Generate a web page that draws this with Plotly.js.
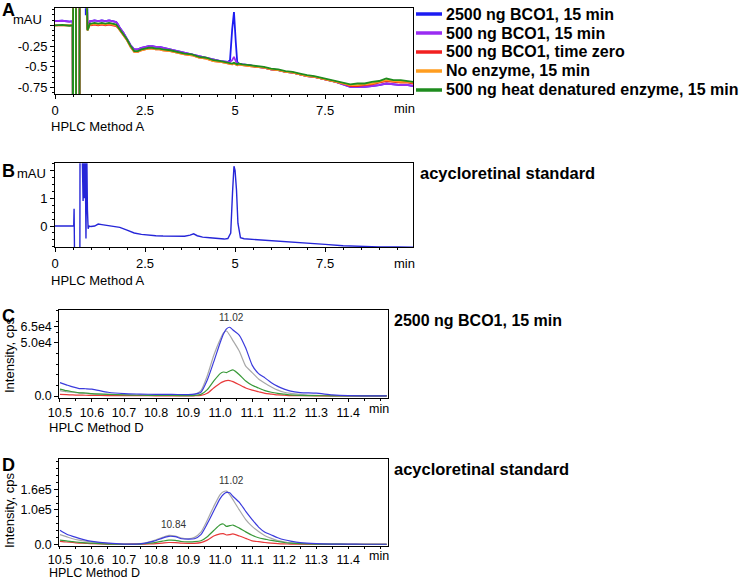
<!DOCTYPE html>
<html>
<head>
<meta charset="utf-8">
<script src="https://cdn.plot.ly/plotly-3.0.1.min.js"></script>
<style>html,body{margin:0;padding:0;background:#fff}#chart{width:745px;height:580px}</style>
</head>
<body>
<div id="chart"></div>
<script>
// ---------------- DATA ----------------
// Panel A : HPLC Method A, 5 samples (mAU vs min)
const seriesNamesA = ['2500 ng BCO1, 15 min', '500 ng BCO1, 15 min', '500 ng BCO1, time zero', 'No enzyme, 15 min', '500 ng heat denatured enzyme, 15 min'];
const tA = [0, 0.2, 0.4, 0.49, 0.5, 0.505, 0.58, 0.585, 0.68, 0.685, 0.83, 0.855, 0.87, 0.895, 0.9, 0.93, 0.97,
  1.0, 1.1, 1.2, 1.3, 1.4, 1.5, 1.6, 1.7, 1.75, 1.8, 1.9, 2.0, 2.1, 2.2, 2.3, 2.4, 2.5, 2.6, 2.7, 2.8, 2.9, 3.0,
  3.2, 3.4, 3.6, 3.8, 4.0, 4.2, 4.4, 4.6, 4.8, 4.86, 4.92, 4.97, 5.02, 5.06, 5.1, 5.2, 5.4, 5.6, 5.8, 6.0,
  6.2, 6.4, 6.6, 6.8, 7.0, 7.2, 7.4, 7.6, 7.8, 8.0, 8.2, 8.4, 8.6, 8.8, 9.0, 9.2, 9.4, 9.6, 9.8, 9.95];
const blueA = [0.05, 0.055, 0.045, 0.05, -2, 2, 2, -2, -2, 2, 2, 0.12, 2, 2, -0.04, 0.0, 0.05,
  0.05, 0.06, 0.05, 0.06, 0.05, 0.06, 0.05, 0.04, 0.01, -0.03, -0.09, -0.16, -0.24, -0.29, -0.29, -0.27, -0.26, -0.25, -0.25, -0.26, -0.26, -0.27,
  -0.29, -0.31, -0.33, -0.35, -0.37, -0.39, -0.41, -0.43, -0.44, -0.42, -0.05, 0.16, -0.2, -0.44, -0.46, -0.47, -0.48, -0.5, -0.51, -0.53,
  -0.54, -0.56, -0.57, -0.59, -0.61, -0.62, -0.64, -0.66, -0.68, -0.71, -0.74, -0.74, -0.74, -0.73, -0.72, -0.7, -0.71, -0.72, -0.72, -0.73];
const purpleA = [0.05, 0.055, 0.045, 0.05, -2, 2, 2, -2, -2, 2, 2, 2, 2, 2, -0.04, 0.0, 0.05,
  0.05, 0.06, 0.05, 0.06, 0.05, 0.06, 0.05, 0.04, 0.01, -0.03, -0.09, -0.16, -0.24, -0.29, -0.29, -0.27, -0.26, -0.25, -0.25, -0.26, -0.26, -0.27,
  -0.29, -0.31, -0.33, -0.35, -0.37, -0.39, -0.41, -0.43, -0.44, -0.44, -0.42, -0.38, -0.43, -0.46, -0.47, -0.47, -0.48, -0.5, -0.51, -0.53,
  -0.54, -0.56, -0.57, -0.59, -0.61, -0.62, -0.64, -0.66, -0.68, -0.71, -0.74, -0.74, -0.74, -0.73, -0.72, -0.7, -0.71, -0.72, -0.72, -0.73];
const redA = [0.0, 0.0, 0.0, 0.0, -2, 2, 2, -2, -2, 2, 2, 2, 2, 2, -0.06, -0.03, 0.01,
  0.0, 0.01, 0.0, 0.01, 0.0, 0.01, 0.0, -0.01, -0.03, -0.06, -0.11, -0.18, -0.26, -0.32, -0.32, -0.3, -0.29, -0.28, -0.28, -0.29, -0.29, -0.3,
  -0.31, -0.33, -0.35, -0.36, -0.39, -0.4, -0.43, -0.44, -0.46, -0.46, -0.47, -0.46, -0.47, -0.48, -0.47, -0.48, -0.49, -0.5, -0.51, -0.53,
  -0.54, -0.56, -0.57, -0.59, -0.61, -0.62, -0.64, -0.66, -0.68, -0.7, -0.73, -0.73, -0.72, -0.71, -0.69, -0.67, -0.68, -0.69, -0.69, -0.7];
const orangeA = [0.0, 0.0, 0.0, 0.0, -2, 2, 2, -2, -2, 2, 2, 2, 2, 2, -0.06, -0.03, 0.01,
  0.01, 0.02, 0.01, 0.02, 0.01, 0.02, 0.01, 0.0, -0.03, -0.06, -0.11, -0.18, -0.26, -0.32, -0.32, -0.3, -0.29, -0.28, -0.28, -0.29, -0.29, -0.3,
  -0.31, -0.33, -0.35, -0.36, -0.39, -0.4, -0.43, -0.44, -0.46, -0.46, -0.47, -0.46, -0.47, -0.48, -0.47, -0.48, -0.49, -0.5, -0.51, -0.53,
  -0.54, -0.56, -0.57, -0.59, -0.61, -0.62, -0.64, -0.66, -0.68, -0.7, -0.72, -0.72, -0.71, -0.7, -0.68, -0.66, -0.67, -0.68, -0.68, -0.69];
const greenA = [0.0, 0.005, -0.005, 0.0, -2, 2, 2, -2, -2, 2, 2, 2, 2, 2, -0.06, -0.03, 0.02,
  0.02, 0.03, 0.02, 0.03, 0.02, 0.03, 0.02, 0.01, -0.02, -0.05, -0.1, -0.17, -0.25, -0.31, -0.31, -0.29, -0.28, -0.27, -0.27, -0.28, -0.28, -0.29,
  -0.3, -0.32, -0.34, -0.35, -0.38, -0.39, -0.42, -0.43, -0.45, -0.45, -0.46, -0.45, -0.46, -0.47, -0.46, -0.47, -0.48, -0.49, -0.5, -0.52,
  -0.53, -0.55, -0.56, -0.58, -0.6, -0.61, -0.63, -0.65, -0.67, -0.69, -0.71, -0.7, -0.7, -0.68, -0.67, -0.64, -0.66, -0.66, -0.67, -0.68];
const valuesA = [blueA, purpleA, redA, orangeA, greenA];
const colorsA = ['#1c1cf2', '#9a2cf2', '#f22020', '#ff9d1f', '#1e8c1e'];

// Panel B : acycloretinal standard, HPLC Method A
const tB = [0, 0.3, 0.52, 0.53, 0.545, 0.55, 0.69, 0.695, 0.75, 0.78, 0.8, 0.82, 0.84, 0.86, 0.88, 0.9,
  0.92, 0.95, 1.0, 1.1, 1.2, 1.3, 1.5, 1.7, 1.8, 2.0, 2.2, 2.4, 2.6, 2.8, 3.0, 3.2, 3.4, 3.6, 3.75, 3.85,
  3.95, 4.1, 4.3, 4.5, 4.7, 4.8, 4.88, 4.93, 4.97, 5.0, 5.04, 5.08, 5.15, 5.25, 5.5, 6.0, 6.5, 7.0, 7.5, 8.0,
  8.5, 9.0, 9.5, 9.95];
const vB = [0, 0, 0, 0.62, -2, -2, -2, 3, 3, 0.9, 3, 1.0, 2.5, -0.45, 3, 0.6,
  -0.1, 0.0, -0.02, 0.0, 0.07, 0.05, 0.02, -0.02, -0.05, -0.15, -0.25, -0.3, -0.33, -0.35, -0.36, -0.37, -0.37, -0.37, -0.33, -0.28,
  -0.35, -0.4, -0.42, -0.45, -0.47, -0.45, -0.25, 1.2, 2.15, 2.0, 1.3, 0.1, -0.42, -0.46, -0.48, -0.52, -0.56, -0.61, -0.66, -0.71,
  -0.74, -0.75, -0.75, -0.76];

// Panel C : 2500 ng BCO1, 15 min, HPLC Method D (cps vs min)
const tC = [10.5, 10.52, 10.54, 10.56, 10.58, 10.6, 10.65, 10.7, 10.75, 10.8, 10.85, 10.9, 10.92, 10.94, 10.96, 10.98, 11.0, 11.01,
  11.02, 11.03, 11.04, 11.06, 11.08, 11.1, 11.12, 11.14, 11.16, 11.18, 11.2, 11.22, 11.25, 11.3, 11.35, 11.4, 11.45, 11.52];
const grayC = [5000, 4000, 3500, 3000, 2500, 2000, 1500, 1000, 800, 700, 600, 600, 1500, 5000, 19000, 38000, 53000, 59000,
  61000, 57000, 52000, 42000, 28000, 22000, 16000, 12000, 8500, 5500, 3500, 2500, 1500, 500, 300, 200, 200, 200];
const redC = [1500, 1200, 1000, 800, 700, 600, 400, 300, 300, 200, 200, 200, 200, 500, 2500, 7500, 12000, 13500,
  14500, 14500, 13500, 10500, 7500, 5500, 4000, 2500, 1800, 1000, 700, 400, 300, 200, 200, 200, 200, 200];
const greenC = [6500, 5000, 4000, 3000, 2800, 2200, 1500, 1000, 700, 500, 500, 400, 600, 1500, 6000, 14000, 21000, 22500,
  22000, 23500, 24500, 20000, 14000, 10000, 7500, 5000, 3500, 2500, 1800, 1000, 600, 300, 200, 200, 200, 200];
const blueC = [12500, 10500, 8500, 7000, 6800, 6500, 3500, 2200, 1800, 1500, 1500, 1300, 1800, 3500, 15000, 32000, 50000, 58000,
  63000, 64500, 62000, 57000, 45000, 29000, 21000, 17000, 12500, 9000, 6500, 4500, 3200, 2600, 1000, 300, 200, 200];

// Panel D : acycloretinal standard, HPLC Method D
const tD = [10.5, 10.52, 10.54, 10.56, 10.58, 10.6, 10.65, 10.7, 10.75, 10.78, 10.8, 10.82, 10.84, 10.86, 10.88, 10.9, 10.92, 10.94,
  10.96, 10.98, 11.0, 11.01, 11.02, 11.03, 11.04, 11.06, 11.08, 11.1, 11.12, 11.14, 11.16, 11.18, 11.2, 11.22, 11.25, 11.3,
  11.35, 11.4, 11.45, 11.52];
const grayD = [28000, 22000, 16000, 12000, 9000, 6500, 2500, 500, 1500, 7000, 13000, 20000, 26000, 24000, 18000, 16000, 20000, 35000,
  70000, 110000, 145000, 153000, 155000, 145000, 130000, 100000, 72000, 52000, 37000, 25000, 17000, 11000, 7000, 4000, 2000, 800,
  300, 0, 0, 0];
const redD = [8500, 6500, 5000, 3500, 2500, 1500, 500, 0, 300, 1000, 2000, 3500, 5000, 4500, 3000, 2500, 2500, 4500,
  12000, 24000, 30000, 31000, 27000, 28000, 30000, 24000, 17000, 10000, 7500, 5000, 3000, 1500, 800, 500, 200, 0,
  0, 0, 0, 0];
const greenD = [12000, 10000, 7500, 5500, 4000, 3000, 500, 0, 500, 3000, 5500, 9000, 12000, 11500, 8000, 7000, 7500, 10000,
  22000, 40000, 57000, 59000, 52000, 54000, 56000, 47000, 36000, 26000, 19000, 15000, 11000, 8000, 5000, 3000, 1500, 500,
  200, 0, 0, 0];
const blueD = [41000, 30000, 23000, 17000, 12000, 8500, 3000, 500, 1000, 6000, 11000, 18000, 23000, 22000, 16000, 15000, 16000, 28000,
  60000, 97000, 133000, 145000, 151000, 150000, 140000, 122000, 96000, 72000, 50000, 35000, 27000, 19000, 13000, 9000, 4500, 1500,
  500, 200, 0, 0];
const colorsCD = {gray: '#a8a8a8', red: '#e83a3a', green: '#3a9a3a', blue: '#3b3bdc'};

// tick labels
const ticksAB_x = [0, 2.5, 5, 7.5];
const ticksA_y = [-0.75, -0.5, -0.25, 0];
const ticksA_ytext = ['-0.75', '-0.5', '-0.25', ''];
const ticksB_y = [0, 1, 2];
const ticksB_ytext = ['0', '1', ''];
const ticksCD_x = [10.5, 10.6, 10.7, 10.8, 10.9, 11.0, 11.1, 11.2, 11.3, 11.4];
const ticksCD_xtext = ['10.5', '10.6', '10.7', '10.8', '10.9', '11.0', '11.1', '11.2', '11.3', '11.4'];
const ticksC_y = [0, 50000, 65000];
const ticksC_ytext = ['0.0', '5.0e4', '6.5e4'];
const ticksD_y = [0, 100000, 160000];
const ticksD_ytext = ['0.0', '1.0e5', '1.6e5'];
const peakLabelsC = [{t: 11.02, text: '11.02'}];
const peakLabelsD = [{t: 10.84, text: '10.84'}, {t: 11.02, text: '11.02'}];

// ---------------- LAYOUT HELPERS ----------------
const W = 745, H = 580;
const px = v => v / W;
const py = v => 1 - v / H;
const FONT = 'Liberation Sans, Arial, sans-serif';

function axis(extra) {
  return Object.assign({
    showline: true, mirror: true, linecolor: '#000', linewidth: 1,
    ticks: 'outside', ticklen: 4, tickwidth: 1, tickcolor: '#000',
    showgrid: false, zeroline: false, fixedrange: true,
    tickfont: {family: FONT, size: 13, color: '#000'},
    tickmode: 'array'
  }, extra);
}
function minor(dtick, tick0) {
  return {ticks: 'outside', ticklen: 2, tickcolor: '#000', tickmode: 'linear', dtick: dtick, tick0: tick0, showgrid: false};
}

// ---------------- TRACES ----------------
const traces = [];
valuesA.forEach((vals, i) => {
  traces.push({x: tA, y: vals, name: seriesNamesA[i], type: 'scatter', mode: 'lines',
    line: {color: colorsA[i], width: 1.8}, xaxis: 'x', yaxis: 'y', showlegend: false, hoverinfo: 'skip'});
});
traces.push({x: tB, y: vB, name: 'acycloretinal standard', type: 'scatter', mode: 'lines',
  line: {color: '#2626d8', width: 1.4}, xaxis: 'x2', yaxis: 'y2', showlegend: false});

[['gray', grayC], ['red', redC], ['green', greenC], ['blue', blueC]].forEach(([c, v]) => {
  traces.push({x: tC, y: v, type: 'scatter', mode: 'lines', line: {color: colorsCD[c], width: 1.2, shape: 'spline', smoothing: 0.6},
    xaxis: 'x3', yaxis: 'y3', showlegend: false});
});
[['gray', grayD], ['red', redD], ['green', greenD], ['blue', blueD]].forEach(([c, v]) => {
  traces.push({x: tD, y: v, type: 'scatter', mode: 'lines', line: {color: colorsCD[c], width: 1.2, shape: 'spline', smoothing: 0.6},
    xaxis: 'x4', yaxis: 'y4', showlegend: false});
});

// ---------------- ANNOTATIONS ----------------
const ann = [];
function txt(x, y, text, opts) {
  ann.push(Object.assign({xref: 'paper', yref: 'paper', x: px(x), y: py(y), text: text, showarrow: false,
    xanchor: 'left', yanchor: 'middle', font: {family: FONT, size: 13, color: '#000'}}, opts || {}));
}
const bold = s => '<b>' + s + '</b>';
// panel letters
txt(0, 10, bold('A'), {font: {family: FONT, size: 18, color: '#000'}});
txt(0, 171, bold('B'), {font: {family: FONT, size: 18, color: '#000'}});
txt(0, 316, bold('C'), {font: {family: FONT, size: 18, color: '#000'}});
txt(0, 465, bold('D'), {font: {family: FONT, size: 18, color: '#000'}});
// unit labels
txt(28, 20, 'mAU', {xanchor: 'center'});
txt(31, 173, 'mAU', {xanchor: 'center'});
txt(404, 109, 'min', {xanchor: 'center'});
txt(404, 263, 'min', {xanchor: 'center'});
txt(379, 409, 'min', {xanchor: 'center', font: {family: FONT, size: 12.5, color: '#000'}});
txt(379, 556, 'min', {xanchor: 'center', font: {family: FONT, size: 12.5, color: '#000'}});
// method labels
txt(49, 126, 'HPLC Method A');
txt(49, 280, 'HPLC Method A');
txt(47, 427, 'HPLC Method D');
txt(47, 572.5, 'HPLC Method D', {font: {family: FONT, size: 12.5, color: '#000'}});
// y titles
txt(9, 356, 'Intensity, cps', {xanchor: 'center', textangle: -90});
txt(9, 511, 'Intensity, cps', {xanchor: 'center', textangle: -90});
// panel titles
txt(418, 173, bold('acycloretinal standard'), {font: {family: FONT, size: 16.5, color: '#000'}});
txt(392, 320, bold('2500 ng BCO1, 15 min'), {font: {family: FONT, size: 16, color: '#000'}});
txt(392, 469, bold('acycloretinal standard'), {font: {family: FONT, size: 16.5, color: '#000'}});
// legend of panel A
const legendRows = [14, 33, 52, 71, 90];
const shapes = [];
seriesNamesA.forEach((n, i) => {
  txt(444, legendRows[i], bold(n), {font: {family: FONT, size: 16, color: '#000'}});
  shapes.push({type: 'line', xref: 'paper', yref: 'paper', x0: px(416), x1: px(442), y0: py(legendRows[i]), y1: py(legendRows[i]),
    line: {color: colorsA[i], width: 3.5}});
});
// peak labels
peakLabelsC.forEach(p => {
  const i = tC.indexOf(p.t);
  ann.push({xref: 'x3', yref: 'y3', x: p.t + 0.015, y: blueC[i], text: p.text, showarrow: false, yanchor: 'bottom', yshift: 4,
    font: {family: FONT, size: 10, color: '#333'}});
});
peakLabelsD.forEach(p => {
  const i = tD.indexOf(p.t);
  ann.push({xref: 'x4', yref: 'y4', x: p.t + 0.015, y: Math.max(blueD[i], grayD[i]), text: p.text, showarrow: false, yanchor: 'bottom', yshift: 3,
    font: {family: FONT, size: 10, color: '#333'}});
});
// zero markers on C and D y axes
['3', '4'].forEach(k => {
  shapes.push({type: 'path', xref: 'x' + k, yref: 'y' + k, xsizemode: 'pixel', ysizemode: 'pixel',
    xanchor: 10.498, yanchor: 0, path: 'M -5 -3 L 0 0 L -5 3 Z', fillcolor: '#0c0c80', line: {width: 0}});
});

const cdTickFont = {family: FONT, size: 12.5, color: '#000'};
const layout = {
  width: W, height: H, margin: {l: 0, r: 0, t: 0, b: 0},
  paper_bgcolor: '#fff', plot_bgcolor: '#fff', showlegend: false,
  font: {family: FONT, size: 13, color: '#000'},
  xaxis: axis({domain: [px(55), px(413.3)], range: [0, 9.95], anchor: 'y', tickvals: ticksAB_x, ticktext: ticksAB_x.map(String),
    minor: minor(0.5, 0)}),
  yaxis: axis({domain: [py(94.3), py(8.3)], range: [-0.83, 0.205], anchor: 'x', tickvals: ticksA_y, ticktext: ticksA_ytext,
    minor: minor(0.0625, 0)}),
  xaxis2: axis({domain: [px(55), px(413.3)], range: [0, 9.95], anchor: 'y2', tickvals: ticksAB_x, ticktext: ticksAB_x.map(String),
    minor: minor(0.5, 0)}),
  yaxis2: axis({domain: [py(247.3), py(163.3)], range: [-0.766, 2.255], anchor: 'x2', tickvals: ticksB_y, ticktext: ticksB_ytext,
    minor: minor(0.25, 0)}),
  xaxis3: axis({domain: [px(59.3), px(388.3)], range: [10.498, 11.525], anchor: 'y3', tickvals: ticksCD_x, ticktext: ticksCD_xtext,
    tickfont: cdTickFont, ticklen: 3, minor: minor(0.05, 10.5)}),
  yaxis3: axis({domain: [py(397.7), py(310)], range: [-1600, 80700], anchor: 'x3', tickvals: ticksC_y, ticktext: ticksC_ytext,
    tickfont: cdTickFont, minor: minor(10000, 0)}),
  xaxis4: axis({domain: [px(59.3), px(388.3)], range: [10.498, 11.525], anchor: 'y4', tickvals: ticksCD_x, ticktext: ticksCD_xtext,
    tickfont: cdTickFont, ticklen: 2, minor: minor(0.05, 10.5)}),
  yaxis4: axis({domain: [py(545.5), py(458.5)], range: [-3700, 250000], anchor: 'x4', tickvals: ticksD_y, ticktext: ticksD_ytext,
    tickfont: cdTickFont, minor: minor(20000, 0)}),
  annotations: ann,
  shapes: shapes
};

Plotly.newPlot('chart', traces, layout, {displayModeBar: false, staticPlot: true});
</script>
</body>
</html>
